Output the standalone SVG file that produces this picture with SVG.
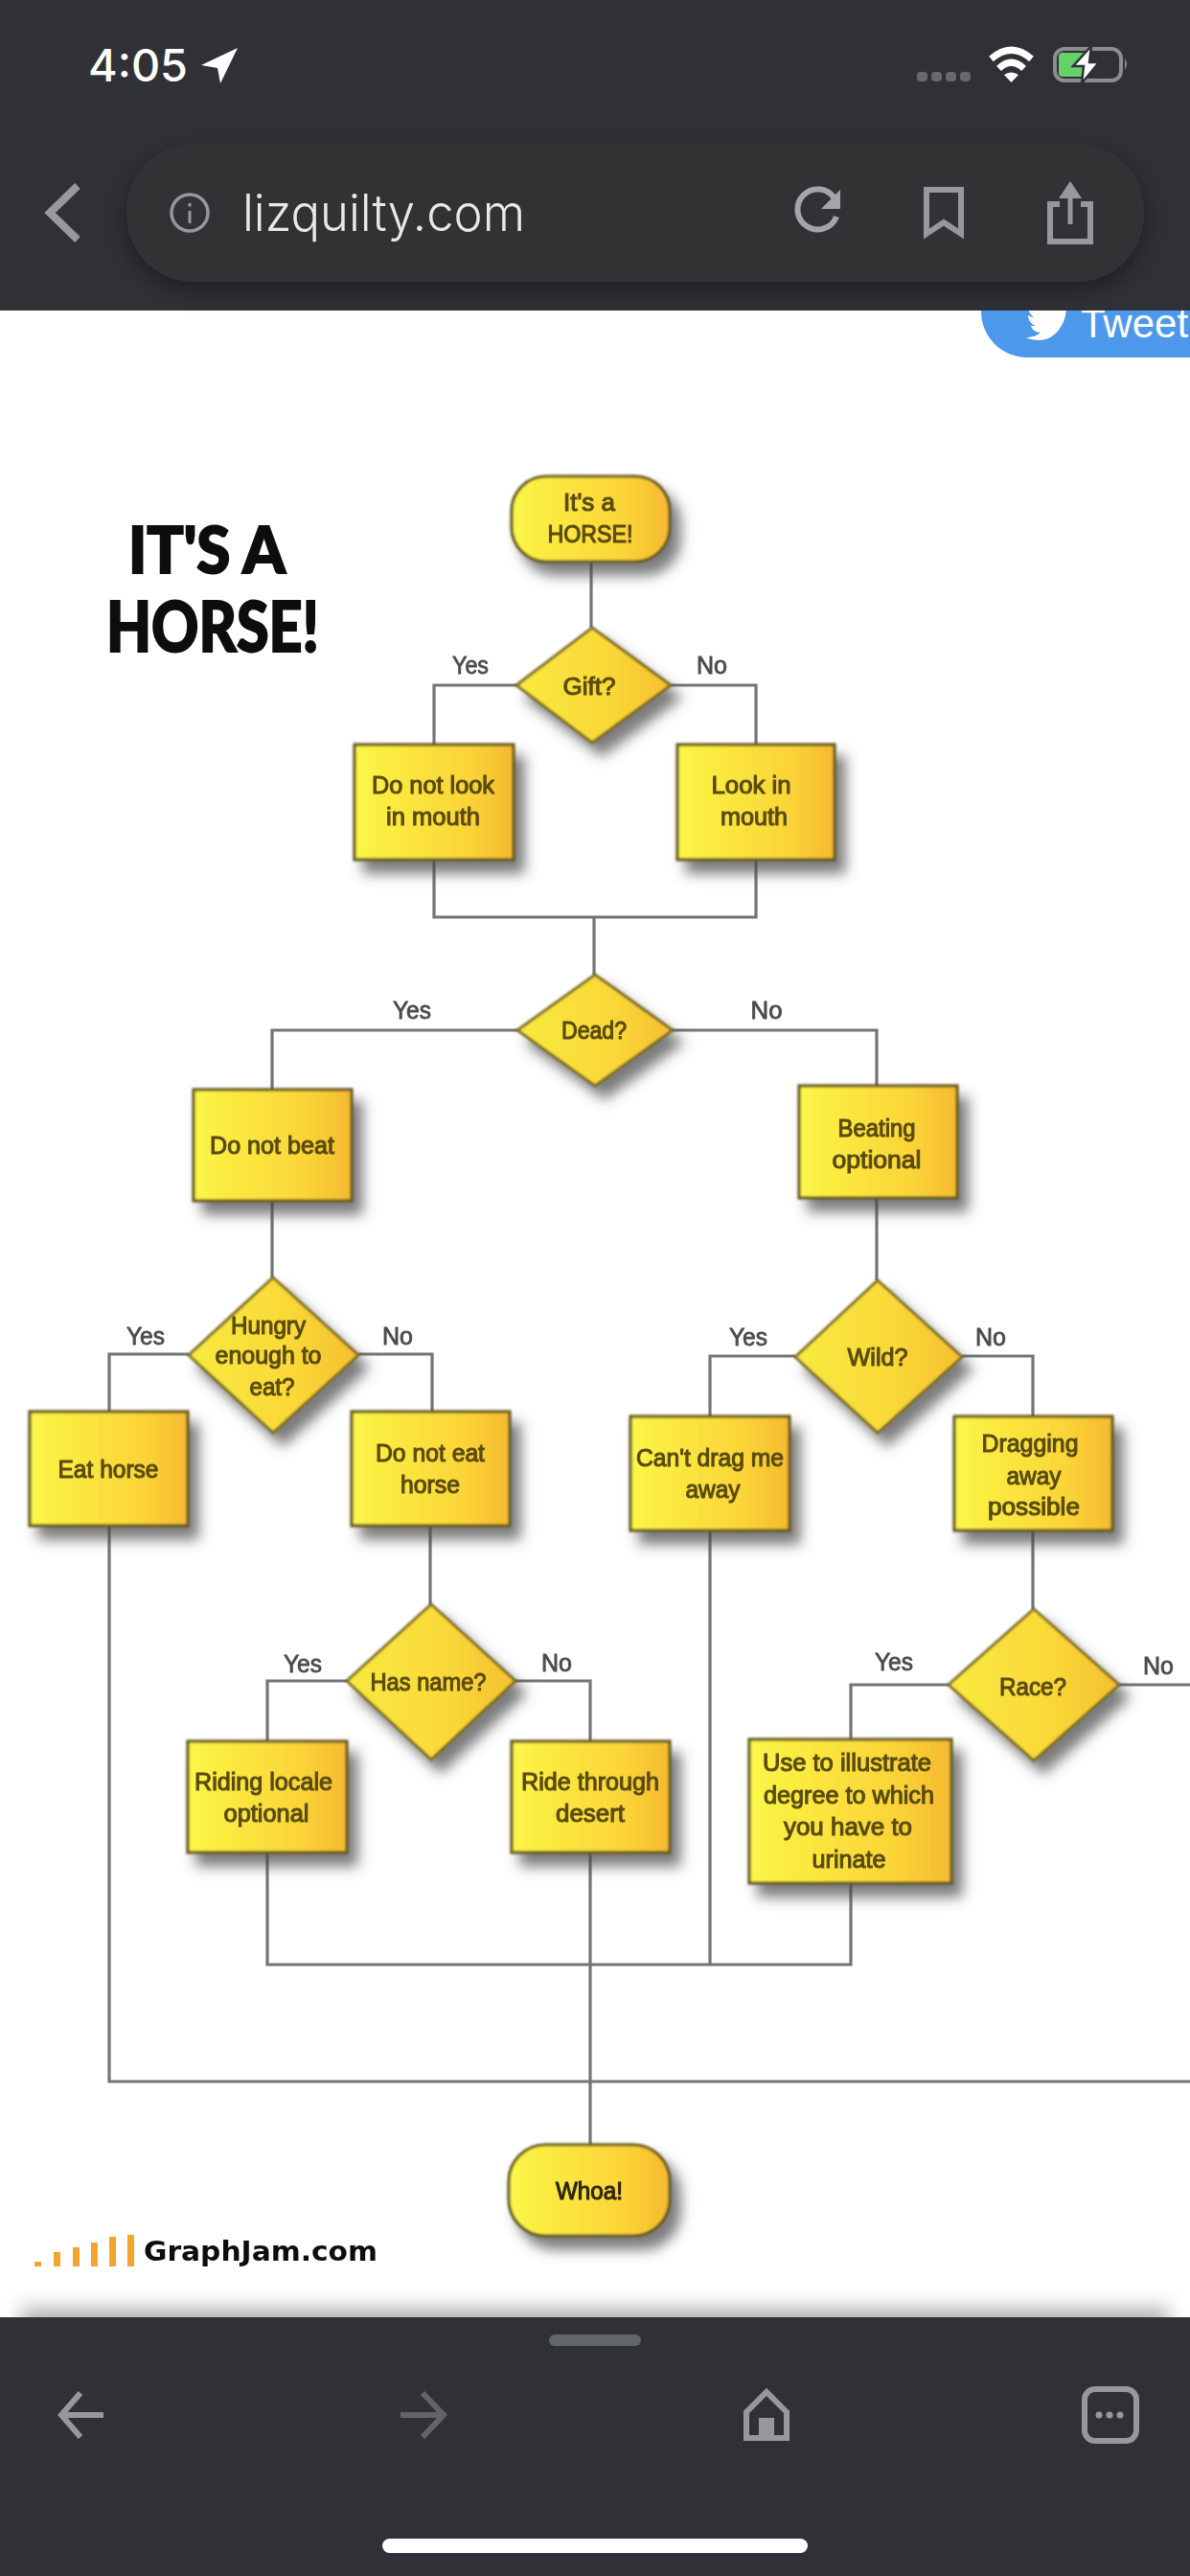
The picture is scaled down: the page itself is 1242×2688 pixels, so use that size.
<svg xmlns="http://www.w3.org/2000/svg" width="1242" height="2688" viewBox="0 0 1242 2688">
<defs>
<linearGradient id="fill" x1="0" y1="0" x2="1" y2="0"><stop offset="0" stop-color="#fbf84c"/><stop offset="0.15" stop-color="#fbee42"/><stop offset="0.7" stop-color="#fbd538"/><stop offset="1" stop-color="#f5ba30"/></linearGradient>
<linearGradient id="dfill" x1="0" y1="0" x2="1" y2="0"><stop offset="0" stop-color="#f8ea40"/><stop offset="0.6" stop-color="#fad838"/><stop offset="1" stop-color="#f5c030"/></linearGradient>
<filter id="shade" x="-25%" y="-25%" width="160%" height="160%"><feGaussianBlur in="SourceGraphic" stdDeviation="0.8" result="b"/><feDropShadow in="b" dx="10" dy="13" stdDeviation="7" flood-color="#4a4a4a" flood-opacity="0.72"/></filter>
<filter id="soft" x="-10%" y="-20%" width="120%" height="140%"><feGaussianBlur stdDeviation="0.7"/></filter>
<filter id="softbig" x="-5%" y="-100%" width="110%" height="300%"><feGaussianBlur stdDeviation="10"/></filter>
<filter id="pillshadow" x="-5%" y="-30%" width="110%" height="170%"><feDropShadow dx="0" dy="8" stdDeviation="12" flood-color="#000" flood-opacity="0.4"/></filter>
<style>
.bar{fill:#303136}
.n{fill:url(#fill);stroke:#665a20;stroke-width:3.2;filter:url(#shade)}
.d{fill:url(#dfill);stroke:#7a6b22;stroke-width:3;filter:url(#shade)}
.c{fill:none;stroke:#737476;stroke-width:3.2}
.t{font-family:"Liberation Sans",Arial,sans-serif;font-size:26px;fill:#5a4c12;stroke:#5a4c12;stroke-width:1.1;text-anchor:middle;filter:url(#soft)}
.l{font-family:"Liberation Sans",Arial,sans-serif;font-size:25px;fill:#4c4c4c;stroke:#4c4c4c;stroke-width:0.8;text-anchor:middle;filter:url(#soft)}
.ti{font-family:Lato,"Liberation Sans",sans-serif;font-weight:900;fill:#0e0e0e;stroke:#0e0e0e;stroke-width:2;text-anchor:middle;filter:url(#soft)}
.ic{fill:none;stroke:#96989d;stroke-linejoin:miter}
.o{fill:#f2a62e}
</style>
</defs>
<rect width="1242" height="2688" fill="#fff"/>

<g id="tweet-button">
<rect x="1024" y="260" width="300" height="113" rx="48" fill="#4c99ec"/>
<path d="M1113 322C1112 340 1100 355 1085 355C1079 355 1074 354 1071 352C1077 352 1083 350 1086 347C1081 347 1077 344 1076 340L1081 340C1076 338 1073 334 1073 329C1075 330 1077 331 1079 331C1076 329 1074 326 1073 322Z" fill="#fff"/>
<text x="1128" y="352" font-family="'Liberation Sans',Arial,sans-serif" font-size="42" fill="#fff">Tweet</text>
</g>

<g id="title">
<text class="ti" x="216" y="598" font-size="66" textLength="164" lengthAdjust="spacingAndGlyphs">IT'S A</text>
<text class="ti" x="222" y="680" font-size="72" textLength="222" lengthAdjust="spacingAndGlyphs">HORSE!</text>
</g>

<g id="connectors">
<path class="c" d="M617 586V655"/>
<path class="c" d="M539 715H453V777M700 715H789V777"/>
<path class="c" d="M453 897V957H789V897M620 957V1017"/>
<path class="c" d="M540 1075H284V1137M702 1075H915V1133"/>
<path class="c" d="M284 1253V1333M915 1250V1336"/>
<path class="c" d="M197 1413H114V1473M374 1413H451V1473"/>
<path class="c" d="M830 1415H741V1478M1004 1415H1078V1478"/>
<path class="c" d="M449 1592V1674M1078 1597V1679"/>
<path class="c" d="M362 1754H279V1817M538 1754H616V1817"/>
<path class="c" d="M990 1758H888V1815M1168 1758H1242"/>
<path class="c" d="M279 1933V2050H888V1965M741 1597V2050"/>
<path class="c" d="M616 1933V2238"/>
<path class="c" d="M114 1592V2172H1242"/>
</g>

<g id="edge-labels">
<text class="l" x="491" y="703" textLength="38" lengthAdjust="spacingAndGlyphs">Yes</text>
<text class="l" x="743" y="703" textLength="32" lengthAdjust="spacingAndGlyphs">No</text>
<text class="l" x="430" y="1063" textLength="40" lengthAdjust="spacingAndGlyphs">Yes</text>
<text class="l" x="800" y="1063" textLength="33" lengthAdjust="spacingAndGlyphs">No</text>
<text class="l" x="152" y="1403" textLength="40" lengthAdjust="spacingAndGlyphs">Yes</text>
<text class="l" x="415" y="1403" textLength="32" lengthAdjust="spacingAndGlyphs">No</text>
<text class="l" x="781" y="1404" textLength="40" lengthAdjust="spacingAndGlyphs">Yes</text>
<text class="l" x="1034" y="1404" textLength="32" lengthAdjust="spacingAndGlyphs">No</text>
<text class="l" x="316" y="1745" textLength="40" lengthAdjust="spacingAndGlyphs">Yes</text>
<text class="l" x="581" y="1744" textLength="32" lengthAdjust="spacingAndGlyphs">No</text>
<text class="l" x="933" y="1743" textLength="40" lengthAdjust="spacingAndGlyphs">Yes</text>
<text class="l" x="1209" y="1747" textLength="32" lengthAdjust="spacingAndGlyphs">No</text>
</g>

<g id="start"><rect class="n" x="534" y="497" width="165" height="89" rx="36"/>
<text class="t" x="615" y="533" textLength="54" lengthAdjust="spacingAndGlyphs">It's a</text>
<text class="t" x="616" y="566" textLength="89" lengthAdjust="spacingAndGlyphs">HORSE!</text></g>

<g id="gift"><polygon class="d" points="618,655 700,715 618,775 539,715"/>
<text class="t" x="615" y="725" textLength="55" lengthAdjust="spacingAndGlyphs">Gift?</text></g>

<g id="do-not-look"><rect class="n" x="370" y="777" width="166" height="120"/>
<text class="t" x="452" y="828" textLength="128" lengthAdjust="spacingAndGlyphs">Do not look</text>
<text class="t" x="452" y="861" textLength="98" lengthAdjust="spacingAndGlyphs">in mouth</text></g>

<g id="look-in"><rect class="n" x="707" y="777" width="164" height="120"/>
<text class="t" x="784" y="828" textLength="83" lengthAdjust="spacingAndGlyphs">Look in</text>
<text class="t" x="787" y="861" textLength="70" lengthAdjust="spacingAndGlyphs">mouth</text></g>

<g id="dead"><polygon class="d" points="621,1017 702,1075 621,1133 540,1075"/>
<text class="t" x="620" y="1084" textLength="68" lengthAdjust="spacingAndGlyphs">Dead?</text></g>

<g id="do-not-beat"><rect class="n" x="202" y="1137" width="165" height="116"/>
<text class="t" x="284" y="1204" textLength="130" lengthAdjust="spacingAndGlyphs">Do not beat</text></g>

<g id="beating-optional"><rect class="n" x="834" y="1133" width="165" height="117"/>
<text class="t" x="915" y="1186" textLength="81" lengthAdjust="spacingAndGlyphs">Beating</text>
<text class="t" x="915" y="1219" textLength="93" lengthAdjust="spacingAndGlyphs">optional</text></g>

<g id="hungry"><polygon class="d" points="285,1333 374,1414 285,1495 197,1414"/>
<text class="t" x="280" y="1392" textLength="78" lengthAdjust="spacingAndGlyphs">Hungry</text>
<text class="t" x="280" y="1423" textLength="111" lengthAdjust="spacingAndGlyphs">enough to</text>
<text class="t" x="284" y="1456" textLength="47" lengthAdjust="spacingAndGlyphs">eat?</text></g>

<g id="wild"><polygon class="d" points="916,1336 1004,1416 916,1495 830,1416"/>
<text class="t" x="916" y="1425" textLength="63" lengthAdjust="spacingAndGlyphs">Wild?</text></g>

<g id="eat-horse"><rect class="n" x="31" y="1473" width="165" height="119"/>
<text class="t" x="113" y="1542" textLength="105" lengthAdjust="spacingAndGlyphs">Eat horse</text></g>

<g id="do-not-eat"><rect class="n" x="367" y="1473" width="165" height="119"/>
<text class="t" x="449" y="1525" textLength="114" lengthAdjust="spacingAndGlyphs">Do not eat</text>
<text class="t" x="449" y="1558" textLength="62" lengthAdjust="spacingAndGlyphs">horse</text></g>

<g id="cant-drag"><rect class="n" x="658" y="1478" width="166" height="119"/>
<text class="t" x="741" y="1530" textLength="154" lengthAdjust="spacingAndGlyphs">Can't drag me</text>
<text class="t" x="744" y="1563" textLength="57" lengthAdjust="spacingAndGlyphs">away</text></g>

<g id="dragging"><rect class="n" x="996" y="1478" width="165" height="119"/>
<text class="t" x="1075" y="1515" textLength="101" lengthAdjust="spacingAndGlyphs">Dragging</text>
<text class="t" x="1079" y="1549" textLength="57" lengthAdjust="spacingAndGlyphs">away</text>
<text class="t" x="1079" y="1581" textLength="96" lengthAdjust="spacingAndGlyphs">possible</text></g>

<g id="has-name"><polygon class="d" points="450,1674 538,1754 450,1836 362,1754"/>
<text class="t" x="447" y="1764" textLength="121" lengthAdjust="spacingAndGlyphs">Has name?</text></g>

<g id="race"><polygon class="d" points="1079,1679 1168,1758 1079,1837 990,1758"/>
<text class="t" x="1078" y="1769" textLength="70" lengthAdjust="spacingAndGlyphs">Race?</text></g>

<g id="riding-locale"><rect class="n" x="196" y="1817" width="166" height="116"/>
<text class="t" x="275" y="1868" textLength="144" lengthAdjust="spacingAndGlyphs">Riding locale</text>
<text class="t" x="278" y="1901" textLength="89" lengthAdjust="spacingAndGlyphs">optional</text></g>

<g id="ride-through"><rect class="n" x="534" y="1817" width="165" height="116"/>
<text class="t" x="616" y="1868" textLength="144" lengthAdjust="spacingAndGlyphs">Ride through</text>
<text class="t" x="616" y="1901" textLength="72" lengthAdjust="spacingAndGlyphs">desert</text></g>

<g id="use-to-illustrate"><rect class="n" x="782" y="1815" width="211" height="150"/>
<text class="t" x="884" y="1848" textLength="176" lengthAdjust="spacingAndGlyphs">Use to illustrate</text>
<text class="t" x="886" y="1882" textLength="178" lengthAdjust="spacingAndGlyphs">degree to which</text>
<text class="t" x="885" y="1915" textLength="134" lengthAdjust="spacingAndGlyphs">you have to</text>
<text class="t" x="886" y="1949" textLength="77" lengthAdjust="spacingAndGlyphs">urinate</text></g>

<g id="whoa"><rect class="n" x="531" y="2238" width="168" height="95" rx="38"/>
<text class="t" x="615" y="2295" textLength="70" lengthAdjust="spacingAndGlyphs" style="fill:#2e2608;stroke:#2e2608">Whoa!</text></g>

<g id="graphjam-logo">
<rect class="o" x="36" y="2360" width="7" height="5"/><rect class="o" x="56" y="2350" width="7" height="15"/><rect class="o" x="76" y="2345" width="7" height="20"/><rect class="o" x="95" y="2340" width="7" height="25"/><rect class="o" x="114" y="2334" width="7" height="31"/><rect class="o" x="133" y="2332" width="7" height="33"/>
<text x="150" y="2359" font-family="'DejaVu Sans',sans-serif" font-weight="700" font-size="29" fill="#111" textLength="244" lengthAdjust="spacingAndGlyphs" filter="url(#soft)">GraphJam.com</text>
</g>

<g id="bottom-toolbar">
<rect x="22" y="2408" width="1198" height="36" fill="#000" fill-opacity="0.3" filter="url(#softbig)"/>
<rect class="bar" y="2418" width="1242" height="270"/>
<rect x="573" y="2436" width="96" height="12" rx="6" fill="#62656b"/>
<path class="ic" stroke-width="6" d="M84 2497L64 2520L84 2543M64 2520H108"/>
<path class="ic" stroke-width="6" style="stroke:#62646a" d="M441 2497L463 2520L441 2543M418 2520H463"/>
<path class="ic" stroke-width="6" d="M779 2544V2517L800 2496L821 2517V2544Z"/>
<rect x="792" y="2523" width="16" height="21" fill="#96989d"/>
<rect class="ic" stroke-width="6" x="1132" y="2493" width="54" height="54" rx="11"/>
<circle cx="1147" cy="2520" r="3.5" fill="#96989d"/><circle cx="1158" cy="2520" r="3.5" fill="#96989d"/><circle cx="1169" cy="2520" r="3.5" fill="#96989d"/>
<rect x="399" y="2649" width="444" height="15" rx="7.5" fill="#fff"/>
</g>

<g id="top-bar">
<rect class="bar" width="1242" height="324"/>
<text x="92" y="85" font-family="Inter,'Liberation Sans',sans-serif" font-weight="500" font-size="46" fill="#fff" textLength="104" lengthAdjust="spacingAndGlyphs">4:05</text>
<path d="M248 50L210 68L227 71L230 87Z" fill="#fff"/>
<g fill="#68696d"><rect x="957" y="75" width="11" height="10" rx="4"/><rect x="972" y="75" width="11" height="10" rx="4"/><rect x="987" y="75" width="11" height="10" rx="4"/><rect x="1002" y="75" width="11" height="10" rx="4"/></g>
<path d="M1055.500 86L1048 78Q1055.500 73 1063 78Z" fill="#fff"/>
<path d="M1042.500 71.500Q1055.500 59 1068.500 71.500M1034.500 61.500Q1055.500 43 1076.500 61.500" fill="none" stroke="#fff" stroke-width="7"/>
<rect x="1101" y="51" width="69" height="33" rx="10" fill="none" stroke="#8c8d90" stroke-width="4"/>
<rect x="1105" y="55" width="28" height="25" rx="4" fill="#63d26a"/>
<path d="M1174 61Q1178 67 1174 73Z" fill="#8c8d90"/>
<path d="M1139 48L1120 69H1131L1129 87L1147 65H1137Z" fill="#fff" stroke="#303136" stroke-width="2.500"/>
<rect x="132" y="150" width="1062" height="144" rx="70" fill="#303136" filter="url(#pillshadow)"/>
<path d="M81 194L52 222L81 250" fill="none" stroke="#97999e" stroke-width="8"/>
<circle cx="198" cy="222" r="19" fill="none" stroke="#95979c" stroke-width="3.5"/>
<rect x="196.500" y="220" width="3" height="13" fill="#95979c"/><rect x="196.500" y="212" width="3" height="3.500" fill="#95979c"/>
<text x="253" y="241" font-family="Inter,'Liberation Sans',sans-serif" font-weight="300" font-size="53" fill="#e9e9eb" textLength="295" lengthAdjust="spacingAndGlyphs">lizquilty.com</text>
<path d="M871 207A21 21 0 1 0 873 226" fill="none" stroke="#a3a5aa" stroke-width="6"/>
<path d="M877 198V218H857Z" fill="#a3a5aa"/>
<path d="M967 198H1003V244L985 232L967 244Z" fill="none" stroke="#96989d" stroke-width="6"/>
<path d="M1106 213H1096V252H1138V213H1128" fill="none" stroke="#96989d" stroke-width="6"/>
<path d="M1117 234V200" stroke="#96989d" stroke-width="5"/>
<path d="M1117 189L1105 207H1129Z" fill="#96989d"/>
</g>
</svg>
